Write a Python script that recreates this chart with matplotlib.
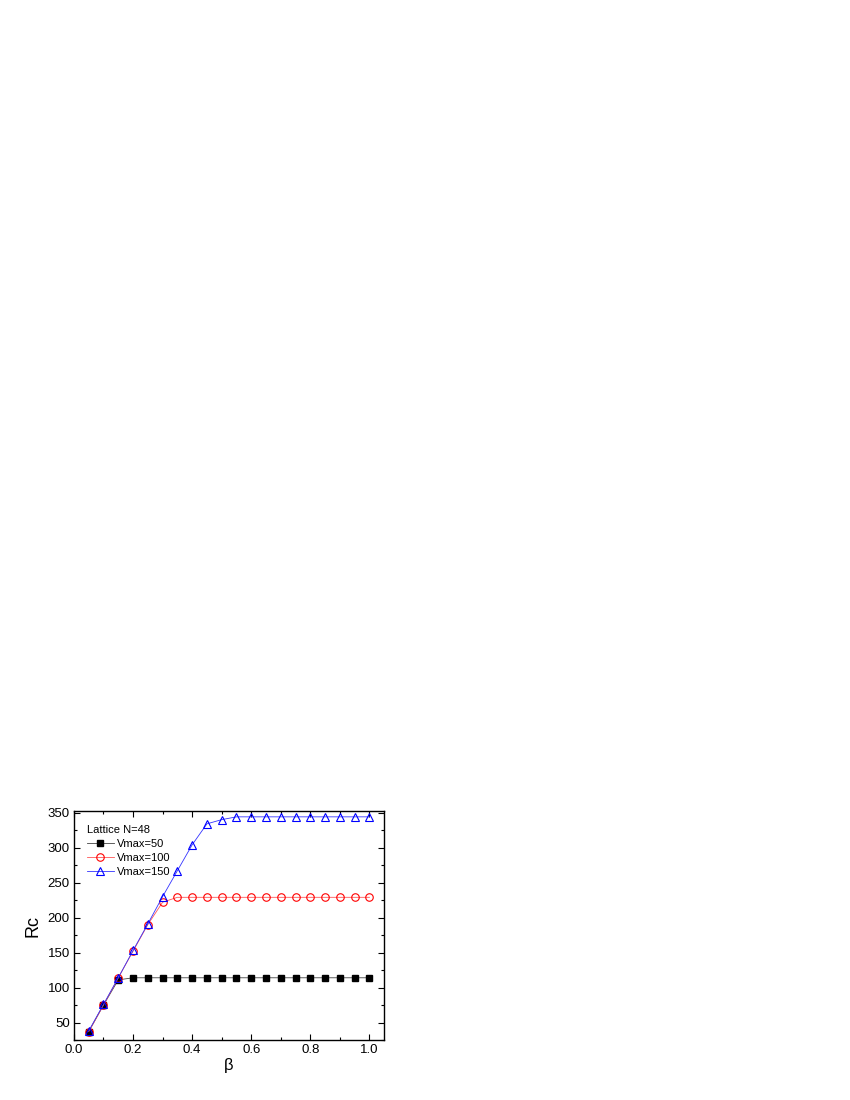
import numpy as np
import matplotlib.pyplot as plt
from matplotlib.ticker import MultipleLocator

beta = [0.05, 0.10, 0.15, 0.20, 0.25, 0.30, 0.35, 0.40, 0.45, 0.50,
        0.55, 0.60, 0.65, 0.70, 0.75, 0.80, 0.85, 0.90, 0.95, 1.00]
rc_v50 = [37, 75, 111, 114, 114, 114, 114, 114, 114, 114,
          114, 114, 114, 114, 114, 114, 114, 114, 114, 114]
rc_v100 = [37, 75, 114, 152, 190, 222, 229, 229, 229, 229,
           229, 229, 229, 229, 229, 229, 229, 229, 229, 229]
rc_v150 = [38, 76, 114, 153, 191, 230, 267, 304, 334, 340,
           344, 344, 344, 344, 344, 344, 344, 344, 344, 344]

plt.rcParams['font.family'] = ['Liberation Sans', 'DejaVu Sans']

fig = plt.figure(figsize=(8.5, 11), dpi=100)
ax = fig.add_axes([0.087, 0.0545, 0.365, 0.208])

ax.plot(beta, rc_v50, color='#444444', lw=0.6, marker='s', ms=4.6,
        mfc='black', mec='black', label='Vmax=50')
ax.plot(beta, rc_v100, color='#ff5555', lw=0.6, marker='o', ms=5.4,
        mfc='none', mec='red', mew=0.8, label='Vmax=100')
ax.plot(beta, rc_v150, color='#3333ff', lw=0.6, marker='^', ms=6,
        mfc='none', mec='blue', mew=0.8, label='Vmax=150')

ax.set_xlim(0, 1.05)
ax.set_ylim(25, 352)
ax.xaxis.set_minor_locator(MultipleLocator(0.1))
ax.yaxis.set_minor_locator(MultipleLocator(25))
ax.set_yticks([50, 100, 150, 200, 250, 300, 350])
ax.set_xticks([0.0, 0.2, 0.4, 0.6, 0.8, 1.0])
ax.set_xticklabels(['0.0', '0.2', '0.4', '0.6', '0.8', '1.0'])
ax.tick_params(which='both', direction='in', top=True, right=True, labelsize=9.5)
ax.tick_params(which='major', length=4, width=0.8, pad=3)
ax.tick_params(which='minor', length=2, width=0.8)
for s in ax.spines.values():
    s.set_linewidth(1.0)

ax.set_xlabel('β', fontsize=12, labelpad=1)
ax.set_ylabel('Rc', fontsize=13, labelpad=4)

leg = ax.legend(loc='upper left', bbox_to_anchor=(0.035, 0.95), title='Lattice N=48',
                fontsize=8, title_fontsize=8, frameon=False, handlelength=2.4,
                handletextpad=0.3, borderaxespad=0.0, borderpad=0.2,
                labelspacing=0.35)
leg._legend_box.align = 'left'

fig.savefig('out.png', dpi=100)
